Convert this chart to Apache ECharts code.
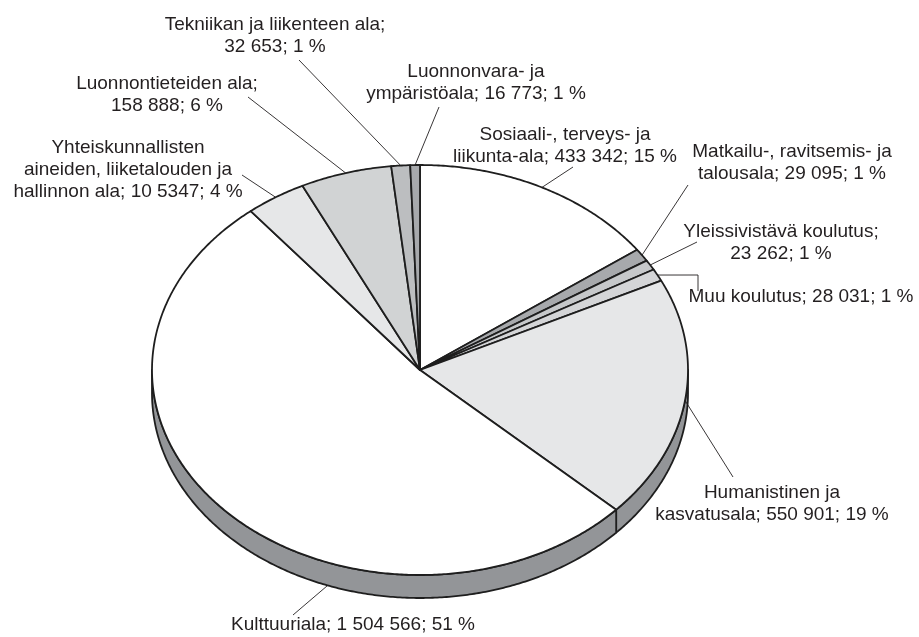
<!DOCTYPE html>
<html>
<head>
<meta charset="utf-8">
<script src="https://cdn.jsdelivr.net/npm/echarts@6/dist/echarts.min.js"></script>
<style>
  html, body { margin: 0; padding: 0; background: #fff; }
  #chart { width: 919px; height: 637px; }
</style>
</head>
<body>
<div id="chart"></div>
<script>
// data, clockwise from 12 o'clock
var categories = [
  "Sosiaali-, terveys- ja liikunta-ala",
  "Matkailu-, ravitsemis- ja talousala",
  "Yleissivistävä koulutus",
  "Muu koulutus",
  "Humanistinen ja kasvatusala",
  "Kulttuuriala",
  "Yhteiskunnallisten aineiden, liiketalouden ja hallinnon ala",
  "Luonnontieteiden ala",
  "Tekniikan ja liikenteen ala",
  "Luonnonvara- ja ympäristöala"
];
var values = [433342, 29095, 23262, 28031, 550901, 1504566, 105347, 158888, 32653, 16773];
var labelTexts = [
  "Sosiaali-, terveys- ja\nliikunta-ala; 433 342; 15 %",
  "Matkailu-, ravitsemis- ja\ntalousala; 29 095; 1 %",
  "Yleissivistävä koulutus;\n23 262; 1 %",
  "Muu koulutus; 28 031; 1 %",
  "Humanistinen ja\nkasvatusala; 550 901; 19 %",
  "Kulttuuriala; 1 504 566; 51 %",
  "Yhteiskunnallisten\naineiden, liiketalouden ja\nhallinnon ala; 10 5347; 4 %",
  "Luonnontieteiden ala;\n158 888; 6 %",
  "Tekniikan ja liikenteen ala;\n32 653; 1 %",
  "Luonnonvara- ja\nympäristöala; 16 773; 1 %"
];
var colors = ["#ffffff", "#a7a9ac", "#c6c8ca", "#d4d5d7", "#e6e7e8",
              "#ffffff", "#e6e7e8", "#d1d3d4", "#bcbec0", "#a7a9ac"];

// label placement (text block centre, leader start)
var labelPos = [
  { x: 565, y: 146, line: [[573, 167]] },
  { x: 792, y: 163, line: [[688, 185]] },
  { x: 781, y: 243, line: [[697, 242]] },
  { x: 801, y: 297, line: [[698, 291], [698, 275]] },
  { x: 772, y: 504, line: [[733, 477]] },
  { x: 353, y: 625, line: [[293, 615]], frac: 0.556, side: true },
  { x: 128, y: 170, line: [[242, 175]] },
  { x: 167, y: 95, line: [[248, 97]] },
  { x: 275, y: 36, line: [[299, 60]] },
  { x: 476, y: 83, line: [[439, 107]] }
];

var cx = 420, cy = 370, rx = 268, ry = 205, depth = 23;
var sideColor = "#939598";
var edge = "#1e1e1e";
var font = '19px "Liberation Sans", Arial, sans-serif';

var total = values.reduce(function (a, b) { return a + b; }, 0);
var slices = [];
var acc = 0;
for (var i = 0; i < values.length; i++) {
  slices.push([values[i], acc / total, (acc + values[i]) / total]);
  acc += values[i];
}

function ellipsePt(frac, dy) {
  var a = Math.PI / 2 - frac * Math.PI * 2;
  return [cx + rx * Math.cos(a), cy - ry * Math.sin(a) + (dy || 0)];
}
function arc(f0, f1, dy) {
  var pts = [];
  var n = Math.max(2, Math.ceil((f1 - f0) * 720));
  for (var k = 0; k <= n; k++) pts.push(ellipsePt(f0 + (f1 - f0) * k / n, dy));
  return pts;
}

var myChart = echarts.init(document.getElementById("chart"));
var option = {
  animation: false,
  backgroundColor: "#fff",
  series: [
    {
      name: "side",
      type: "custom",
      coordinateSystem: "none",
      z: 1,
      data: slices,
      renderItem: function (params, api) {
        var s = Math.max(api.value(1), 0.25);
        var e = Math.min(api.value(2), 0.75);
        if (e <= s) return { type: "group", children: [] };
        var pts = arc(s, e, 0).concat(arc(s, e, depth).reverse());
        return {
          type: "polygon",
          shape: { points: pts },
          style: { fill: sideColor, stroke: edge, lineWidth: 1.8, lineJoin: "round" }
        };
      }
    },
    {
      name: "top",
      type: "custom",
      coordinateSystem: "none",
      z: 2,
      data: slices,
      renderItem: function (params, api) {
        var idx = params.dataIndex;
        var pts = [[cx, cy]].concat(arc(api.value(1), api.value(2), 0));
        return {
          type: "polygon",
          shape: { points: pts },
          style: { fill: colors[idx], stroke: edge, lineWidth: 1.8, lineJoin: "round" }
        };
      }
    },
    {
      name: "labels",
      type: "custom",
      coordinateSystem: "none",
      z: 3,
      data: slices,
      renderItem: function (params, api) {
        var idx = params.dataIndex;
        var lp = labelPos[idx];
        var f = lp.frac != null ? lp.frac : (api.value(1) + api.value(2)) / 2;
        var anchor = ellipsePt(f, lp.side ? depth : 0);
        var pts = lp.line.concat([anchor]);
        return {
          type: "group",
          children: [
            {
              type: "polyline",
              shape: { points: pts },
              style: { fill: null, stroke: "#231f20", lineWidth: 0.9 }
            },
            {
              type: "text",
              style: {
                text: labelTexts[idx],
                x: lp.x,
                y: lp.y,
                align: "center",
                verticalAlign: "middle",
                textAlign: "center",
                textVerticalAlign: "middle",
                font: font,
                lineHeight: 22,
                fill: "#231f20"
              }
            }
          ]
        };
      }
    }
  ]
};
myChart.setOption(option);
</script>
</body>
</html>
